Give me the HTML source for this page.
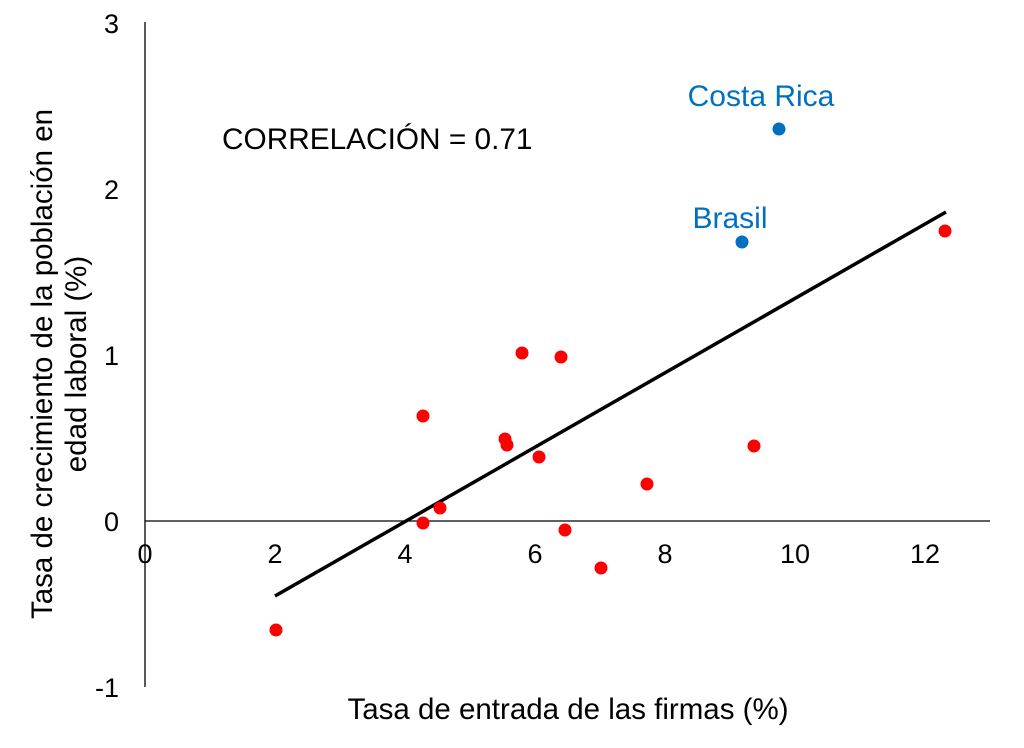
<!DOCTYPE html>
<html><head><meta charset="utf-8"><style>
body{margin:0;background:#fff;}
svg text{font-family:"Liberation Sans",sans-serif;}
</style></head><body>
<svg width="1024" height="743" viewBox="0 0 1024 743" xmlns="http://www.w3.org/2000/svg">
<rect width="1024" height="743" fill="#fff"/>
<line x1="145" y1="22" x2="145" y2="687" stroke="#000" stroke-width="1.3"/>
<line x1="145" y1="521" x2="990" y2="521" stroke="#000" stroke-width="1.3"/>
<g font-size="27" fill="#000" text-anchor="end">
<text x="119" y="33">3</text>
<text x="119" y="199">2</text>
<text x="119" y="365">1</text>
<text x="119" y="531">0</text>
<text x="119" y="697">-1</text>
</g>
<g font-size="27" fill="#000" text-anchor="middle">
<text x="145" y="563">0</text>
<text x="275" y="563">2</text>
<text x="405" y="563">4</text>
<text x="535" y="563">6</text>
<text x="665" y="563">8</text>
<text x="795" y="563">10</text>
<text x="925" y="563">12</text>
</g>
<line x1="275" y1="596" x2="946" y2="212" stroke="#000" stroke-width="3.5"/>
<g fill="#ff0000">
<circle cx="276" cy="630" r="6.5"/><circle cx="423" cy="416" r="6.5"/>
<circle cx="423" cy="523" r="6.5"/><circle cx="440" cy="508" r="6.5"/>
<circle cx="505" cy="439" r="6.5"/><circle cx="507" cy="445" r="6.5"/>
<circle cx="522" cy="353" r="6.5"/><circle cx="539" cy="457" r="6.5"/>
<circle cx="561" cy="357" r="6.5"/><circle cx="565" cy="530" r="6.5"/>
<circle cx="601" cy="568" r="6.5"/><circle cx="647" cy="484" r="6.5"/>
<circle cx="754" cy="446" r="6.5"/><circle cx="945" cy="231" r="6.5"/>
</g>
<g fill="#0070c0">
<circle cx="779" cy="129" r="6.5"/><circle cx="742" cy="242" r="6.5"/>
<text x="761" y="106" font-size="30" text-anchor="middle">Costa Rica</text>
<text x="730" y="228" font-size="30" text-anchor="middle">Brasil</text>
</g>
<text x="222" y="149" font-size="29.8" fill="#000">CORRELACIÓN = 0.71</text>
<text x="568" y="719" font-size="29.5" fill="#000" text-anchor="middle">Tasa de entrada de las firmas (%)</text>
<g font-size="29.5" fill="#000" text-anchor="middle">
<text transform="translate(52,364) rotate(-90)">Tasa de crecimiento de la población en</text>
<text transform="translate(86,364) rotate(-90)">edad laboral (%)</text>
</g>
</svg>
</body></html>
